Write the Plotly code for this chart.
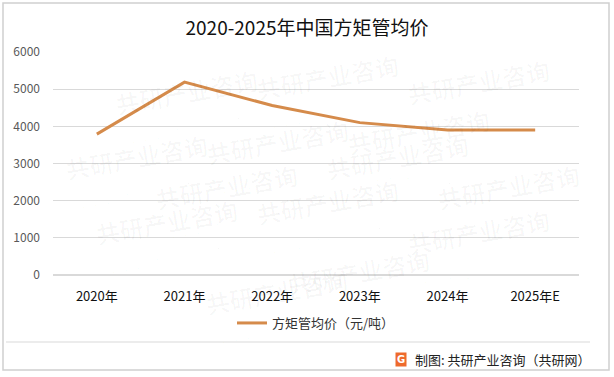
import plotly.graph_objects as go

categories = ["2020年", "2021年", "2022年", "2023年", "2024年", "2025年E"]
prices = [3790, 5190, 4560, 4100, 3900, 3900]
y_ticks = [0, 1000, 2000, 3000, 4000, 5000, 6000]
series_name = "方矩管均价（元/吨）"
title_text = "2020-2025年中国方矩管均价"
source_text = "制图: 共研产业咨询（共研网）"

W, H = 614, 377
L, R, T, B = 53, 35, 52, 102
pw, ph = W - L - R, H - T - B

def px(x):
    return (x - L) / pw

def py(y):
    return (H - B - y) / ph

fig = go.Figure()
fig.add_trace(go.Scatter(
    x=categories, y=prices, mode="lines", name=series_name,
    line=dict(color="#D58B4B", width=3),
))

font_cjk = "Noto Sans CJK SC, Microsoft YaHei, sans-serif"

annotations = []
# faint watermarks
wm_positions = [(110, 60), (330, 45), (560, 50), (60, 125), (280, 110), (500, 100),
                (150, 200), (400, 170), (590, 200), (90, 280), (330, 260), (560, 290),
                (200, 350), (440, 330)]
for (wx, wy) in wm_positions:
    annotations.append(dict(
        x=px(wx), y=py(wy), xref="paper", yref="paper", showarrow=False,
        text="<b>共研产业咨询</b><br><span style='font-size:12px'>w w w . g o n y n . c o m</span>",
        font=dict(size=24, color="rgba(0,0,0,0.028)", family=font_cjk),
        textangle=-10, align="center",
    ))

annotations.append(dict(
    x=px(593), y=py(359), xref="paper", yref="paper", showarrow=False,
    xanchor="right", yanchor="middle", text=source_text,
    font=dict(size=13, color="#222222", family=font_cjk),
))
annotations.append(dict(
    x=px(401), y=py(359), xref="paper", yref="paper", showarrow=False,
    xanchor="center", yanchor="middle", text="<b>G</b>",
    font=dict(size=10, color="white", family="DejaVu Sans"),
    bgcolor="#EE6A2C", borderpad=1,
))

fig.update_layout(
    width=W, height=H,
    margin=dict(l=L, r=R, t=T, b=B, autoexpand=False),
    paper_bgcolor="white", plot_bgcolor="white",
    title=dict(text=title_text, x=0.5, xanchor="center", y=1 - 28 / H, yanchor="middle",
               font=dict(size=19, color="#111111", family=font_cjk)),
    xaxis=dict(
        range=[-0.5, 5.5], showgrid=False, showline=False, zeroline=False,
        ticks="", tickfont=dict(size=13, color="#111111", family=font_cjk),
        ticklabelstandoff=12, fixedrange=True,
    ),
    yaxis=dict(
        range=[0, 6000], tickvals=y_ticks, showgrid=True, gridcolor="#D9D9D9",
        gridwidth=1, zeroline=True, zerolinecolor="#D9D9D9", showline=False,
        ticks="", tickfont=dict(size=12, color="#595959", family=font_cjk),
        ticklabelstandoff=12, fixedrange=True,
    ),
    legend=dict(
        orientation="h", x=0.5, xanchor="center", y=py(323), yanchor="middle",
        font=dict(size=13, color="#333333", family=font_cjk),
        itemwidth=30, bgcolor="rgba(0,0,0,0)",
    ),
    showlegend=True,
    annotations=annotations,
    shapes=[
        dict(type="rect", xref="paper", yref="paper",
             x0=px(3), x1=px(609), y0=py(370), y1=py(3),
             line=dict(color="#D0D0D0", width=1.5), fillcolor="rgba(0,0,0,0)", layer="below"),
        dict(type="line", xref="paper", yref="paper",
             x0=px(6), x1=px(590), y0=py(342), y1=py(342),
             line=dict(color="#D9D9D9", width=1)),
    ],
)

fig.write_html(
    "out.html",
    config={"displayModeBar": False},
    post_script="document.body.style.margin='0';document.body.style.overflow='hidden';",
)
